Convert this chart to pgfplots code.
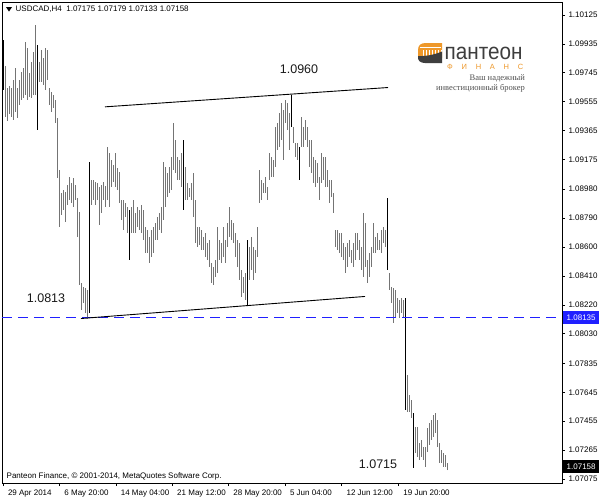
\documentclass[border=0pt]{standalone}
\usepackage{fontspec}
\setmainfont{Liberation Sans}
\newfontfamily\taglinefont{Liberation Serif}
\usepackage{pgfplots}
\usepackage{pgfplotstable}
\pgfplotsset{compat=1.18}

\definecolor{bargray}{RGB}{116,116,116}
\definecolor{levelblue}{RGB}{32,32,255}
\definecolor{logoorange}{RGB}{238,152,42}
\definecolor{logodark}{RGB}{62,62,62}
\definecolor{taggray}{RGB}{80,80,80}

% USDCAD H4 bars: bar index, high, low
\pgfplotstableread{
i hi lo
0 1.09961 1.09633
1 1.09790 1.09455
2 1.09646 1.09429
3 1.09659 1.09475
4 1.09646 1.09455
5 1.09698 1.09436
6 1.09777 1.09488
7 1.09646 1.09449
8 1.09698 1.09534
9 1.09751 1.09567
10 1.09777 1.09580
11 1.09948 1.09600
12 1.09909 1.09567
13 1.09744 1.09587
14 1.09817 1.09580
15 1.09882 1.09600
16 1.10060 1.09600
17 1.09928 1.09370
18 1.09817 1.09685
19 1.09896 1.09685
20 1.09843 1.09666
21 1.09909 1.09633
22 1.09896 1.09698
23 1.09646 1.09534
24 1.09620 1.09488
25 1.09600 1.09514
26 1.09567 1.09416
27 1.09449 1.09055
28 1.09107 1.08733
29 1.08956 1.08811
30 1.08976 1.08844
31 1.08963 1.08765
32 1.09009 1.08877
33 1.09061 1.08910
34 1.09022 1.08890
35 1.09055 1.08864
36 1.09009 1.08910
37 1.08923 1.08667
38 1.08831 1.08352
39 1.08365 1.08187
40 1.08338 1.08233
41 1.08332 1.08168
42 1.08319 1.08130
43 1.09160 1.08168
44 1.09041 1.08877
45 1.09041 1.08910
46 1.09028 1.08877
47 1.09022 1.08910
48 1.08995 1.08746
49 1.09009 1.08825
50 1.09028 1.08910
51 1.09002 1.08864
52 1.09258 1.08910
53 1.09219 1.08864
54 1.09173 1.08995
55 1.09140 1.09028
56 1.09219 1.08995
57 1.09120 1.08976
58 1.09094 1.08890
59 1.08910 1.08779
60 1.08910 1.08713
61 1.08890 1.08798
62 1.08864 1.08693
63 1.08844 1.08516
64 1.08864 1.08693
65 1.08910 1.08693
66 1.08825 1.08693
67 1.08864 1.08733
68 1.08844 1.08713
69 1.08877 1.08693
70 1.08844 1.08647
71 1.08733 1.08562
72 1.08713 1.08562
73 1.08667 1.08496
74 1.08713 1.08536
75 1.08733 1.08562
76 1.08759 1.08647
77 1.08798 1.08647
78 1.08825 1.08713
79 1.08864 1.08693
80 1.09160 1.08779
81 1.09127 1.08864
82 1.09087 1.08930
83 1.09127 1.08956
84 1.09193 1.08976
85 1.09416 1.09107
86 1.09304 1.09087
87 1.09193 1.09041
88 1.09173 1.09041
89 1.09219 1.08995
90 1.09304 1.08844
91 1.09127 1.08910
92 1.09022 1.08910
93 1.08989 1.08930
94 1.09022 1.08910
95 1.09087 1.08798
96 1.08910 1.08627
97 1.08733 1.08601
98 1.08733 1.08614
99 1.08713 1.08582
100 1.08667 1.08582
101 1.08693 1.08536
102 1.08627 1.08516
103 1.08647 1.08470
104 1.08496 1.08365
105 1.08470 1.08352
106 1.08516 1.08404
107 1.08733 1.08430
108 1.08647 1.08516
109 1.08627 1.08496
110 1.08733 1.08536
111 1.08647 1.08496
112 1.08759 1.08601
113 1.08864 1.08667
114 1.08779 1.08647
115 1.08759 1.08627
116 1.08693 1.08536
117 1.08647 1.08470
118 1.08627 1.08384
119 1.08450 1.08273
120 1.08404 1.08299
121 1.08430 1.08253
122 1.08647 1.08220
123 1.08601 1.08384
124 1.08667 1.08450
125 1.08601 1.08384
126 1.08582 1.08430
127 1.08733 1.08536
128 1.09107 1.08890
129 1.09041 1.08910
130 1.09022 1.08956
131 1.09061 1.08956
132 1.08995 1.08910
133 1.09219 1.09041
134 1.09193 1.09061
135 1.09173 1.09061
136 1.09390 1.09127
137 1.09416 1.09239
138 1.09482 1.09258
139 1.09547 1.09304
140 1.09501 1.09173
141 1.09567 1.09416
142 1.09547 1.09370
143 1.09482 1.09239
144 1.09600 1.09390
145 1.09390 1.09284
146 1.09284 1.09193
147 1.09284 1.09173
148 1.09258 1.09041
149 1.09455 1.09258
150 1.09390 1.09258
151 1.09436 1.09304
152 1.09390 1.09258
153 1.09304 1.09127
154 1.09304 1.09087
155 1.09193 1.09022
156 1.09173 1.08995
157 1.09153 1.09022
158 1.09061 1.08910
159 1.09219 1.09022
160 1.09193 1.09041
161 1.09193 1.08995
162 1.09107 1.08995
163 1.09041 1.08890
164 1.09041 1.08930
165 1.08956 1.08825
166 1.08713 1.08601
167 1.08713 1.08582
168 1.08693 1.08562
169 1.08693 1.08536
170 1.08627 1.08516
171 1.08601 1.08430
172 1.08627 1.08470
173 1.08647 1.08536
174 1.08582 1.08496
175 1.08627 1.08470
176 1.08693 1.08516
177 1.08693 1.08582
178 1.08647 1.08516
179 1.08601 1.08450
180 1.08825 1.08404
181 1.08759 1.08470
182 1.08516 1.08365
183 1.08562 1.08404
184 1.08601 1.08470
185 1.08759 1.08562
186 1.08667 1.08562
187 1.08693 1.08582
188 1.08647 1.08582
189 1.08713 1.08562
190 1.08733 1.08627
191 1.08713 1.08601
192 1.08923 1.08450
193 1.08430 1.08319
194 1.08338 1.08233
195 1.08332 1.08102
196 1.08319 1.08135
197 1.08266 1.08168
198 1.08253 1.08135
199 1.08266 1.08168
200 1.08253 1.08135
201 1.08266 1.07530
202 1.07760 1.07517
203 1.07629 1.07517
204 1.07596 1.07478
205 1.07511 1.07150
206 1.07419 1.07248
207 1.07419 1.07222
208 1.07313 1.07202
209 1.07333 1.07222
210 1.07287 1.07202
211 1.07287 1.07156
212 1.07412 1.07254
213 1.07445 1.07300
214 1.07465 1.07333
215 1.07497 1.07353
216 1.07511 1.07379
217 1.07465 1.07287
218 1.07313 1.07182
219 1.07267 1.07182
220 1.07248 1.07156
221 1.07235 1.07156
222 1.07179 1.07133
}\hfourbars

% the same bars that are drawn in black
\pgfplotstableread{
i hi lo
0 1.09961 1.09633
17 1.09928 1.09370
43 1.09160 1.08168
63 1.08844 1.08516
90 1.09304 1.08844
122 1.08647 1.08220
144 1.09600 1.09390
148 1.09258 1.09041
192 1.08923 1.08450
201 1.08266 1.07530
205 1.07511 1.07150
}\hfourblack

% horizontal support level
\pgfplotstableread{
i p
-0.5 1.08135
279.5 1.08135
}\supportlevel

\newcommand\chartfont{\fontsize{8}{9.6}\selectfont}

\begin{document}
\begin{tikzpicture}
\useasboundingbox (0,0) rectangle (600pt,-499pt);
\fill[white] (0,0) rectangle (600pt,-499pt);
\begin{axis}[
  at={(2pt,-2pt)}, anchor=north west,
  width=560pt, height=481pt, scale only axis,
  xmin=-0.5, xmax=279.5,
  ymin=1.07049, ymax=1.10210,
  axis line style={black, line width=0.8pt},
  tick align=outside,
  major tick length=3pt,
  tick style={black, line width=0.6pt},
  xtick pos=left, ytick pos=right,
  yticklabel pos=right,
  xtick={0,28.2,56.4,84.6,112.7,141,169.3,197.7},
  xticklabels={29 Apr 2014, 6 May 20:00, 14 May 04:00, 21 May 12:00, 28 May 20:00, 5 Jun 04:00, 12 Jun 12:00, 19 Jun 20:00},
  ytick={1.10125,1.09935,1.09745,1.09555,1.09365,1.09175,1.08980,1.08790,1.08600,1.08410,1.08220,1.08030,1.07835,1.07645,1.07455,1.07265,1.07075},
  yticklabels={1.10125,1.09935,1.09745,1.09555,1.09365,1.09175,1.08980,1.08790,1.08600,1.08410,1.08220,1.08030,1.07835,1.07645,1.07455,1.07265,1.07075},
  ticklabel style={font=\chartfont, text=black},
  xticklabel style={anchor=north west, xshift=1.5pt},
  yticklabel style={anchor=west},
  /pgf/number format/assume math mode=true,
]
% price bars
\addplot[draw=none, mark=none, forget plot,
  error bars/.cd, y dir=plus, y explicit, error mark=none,
  error bar style={draw=bargray, line width=0.95pt}]
  table[x=i, y=lo, y error expr=\thisrow{hi}-\thisrow{lo}] {\hfourbars};
\addplot[draw=none, mark=none, forget plot,
  error bars/.cd, y dir=plus, y explicit, error mark=none,
  error bar style={draw=black, line width=0.8pt}]
  table[x=i, y=lo, y error expr=\thisrow{hi}-\thisrow{lo}] {\hfourblack};
% support level
\addplot[color=levelblue, line width=1.1pt, dash pattern=on 10pt off 6pt, mark=none, forget plot] table[x=i, y=p] {\supportlevel};
% channel lines
\addplot[color=black, line width=0.9pt, mark=none] coordinates {(51,1.09521) (192.5,1.09648)};
\addplot[color=black, line width=0.9pt, mark=none] coordinates {(39,1.08130) (181,1.08275)};
\coordinate (lvl) at (axis cs:279.5,1.08135);
\coordinate (last) at (axis cs:279.5,1.07158);
\end{axis}

% price boxes on the scale
\node[fill=levelblue, text=white, font=\chartfont, anchor=west, inner xsep=3.5pt, inner ysep=0pt, minimum height=13pt] at ([xshift=1pt]lvl) {1.08135};
\node[fill=black, text=white, font=\chartfont, anchor=west, inner xsep=3.5pt, inner ysep=0pt, minimum height=13pt] at ([xshift=1pt]last) {1.07158};

\begin{scope}[x=1pt, y=-1pt]
% symbol header
\fill[black] (6,7) -- (12,7) -- (9,11.5) -- cycle;
\node[anchor=west, font=\chartfont, inner sep=0pt] at (15.5,9) {USDCAD,H4\ \ 1.07175 1.07179 1.07133 1.07158};
% footer
\node[anchor=west, font=\chartfont, inner sep=0pt] at (6.5,476) {Panteon Finance, \textcopyright{} 2001-2014, MetaQuotes Software Corp.};
% level annotations
\node[font=\fontsize{12.5}{14}\selectfont, text=black!90] at (299,69) {1.0960};
\node[font=\fontsize{12.5}{14}\selectfont, text=black!90] at (46,298) {1.0813};
\node[font=\fontsize{12.5}{14}\selectfont, text=black!90] at (378,464) {1.0715};
% logo
\fill[logoorange] (418,58) -- (418,50) .. controls (418,45) and (421,43) .. (426,43) -- (442,43) -- (442,58) -- cycle;
\fill[white] (420,47) rectangle (441,48.2);
\foreach \cx in {422.5,425.5,428.5,431.5,434.5,437.5,440.5}
  \fill[white] (\cx,49.5) rectangle (\cx+1,56);
\fill[logodark] (418,56) .. controls (426,56.5) and (435,54.5) .. (442,51.5) -- (442,63) -- (425,63) .. controls (420.5,63) and (418,60.5) .. (418,58) -- cycle;
\node[anchor=base west, inner sep=0pt, text=logodark] at (444.5,59.5) {\scalebox{0.9}[1]{\fontsize{23}{23}\selectfont\smash{пантеон}}};
\node[anchor=west, inner sep=0pt, text=logoorange] at (447,67) {\fontsize{7.5}{8}\selectfont\makebox[76pt][s]{Ф\hfill И\hfill Н\hfill А\hfill Н\hfill С}};
\node[anchor=east, inner sep=0pt, text=taggray] at (525,78.5) {\taglinefont\fontsize{8.5}{9}\selectfont Ваш надежный};
\node[anchor=east, inner sep=0pt, text=taggray] at (525,88.5) {\taglinefont\fontsize{8.5}{9}\selectfont инвестиционный брокер};
\end{scope}
\end{tikzpicture}
\end{document}
